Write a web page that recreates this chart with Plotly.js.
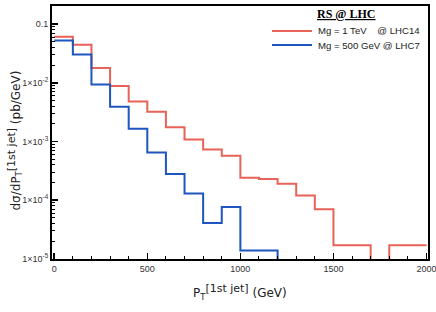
<!DOCTYPE html>
<html>
<head>
<meta charset="utf-8">
<script src="https://cdn.plot.ly/plotly-3.0.1.min.js"></script>
<style>html,body{margin:0;padding:0;background:#fff;}#chart{width:436px;height:312px;}</style>
</head>
<body>
<div id="chart"></div>
<script>
// Bin edges (GeV), 100 GeV bins from 0 to 2000
var binEdges = [0,100,200,300,400,500,600,700,800,900,1000,1100,1200,1300,1400,1500,1600,1700,1800,1900,2000];
// dσ/dPT (pb/GeV) per bin
var redValues  = [0.061,0.0445,0.0179,0.0088,0.0048,0.0032,0.00175,0.00108,0.00073,0.00057,0.00024,0.00023,0.00019,0.00012,0.00007,1.7e-5,1.7e-5,0,1.7e-5,1.7e-5];
var blueValues = [0.053,0.0305,0.0094,0.0039,0.00165,0.00065,0.00028,0.00013,0.0000407,0.0000763,1.38e-5,1.38e-5,0,0,0,0,0,0,0,0];
var seriesNames = ["Mg = 1 TeV &nbsp;&nbsp;&nbsp;@ LHC14", "Mg = 500 GeV @ LHC7"];
var seriesColors = ['rgb(232,98,88)', 'rgb(30,85,190)'];
var legendTitle = '<b><u>RS @ LHC</u></b>';
var yTickVals = [0.1,0.01,0.001,0.0001,0.00001];
var yTickText = ["0.1","1×10<sup>-2</sup>","1×10<sup>-3</sup>","1×10<sup>-4</sup>","1×10<sup>-5</sup>"];
var xTickVals = [0,500,1000,1500,2000];

var FLOOR = 1e-7; // empty bins drawn below the visible range on the log axis
function stepY(vals){
  var y = vals.map(function(v){ return v > 0 ? v : FLOOR; });
  y.push(y[y.length-1]);
  return y;
}
var minorY = [];
for (var e = -5; e <= -1; e++) for (var m = 2; m <= 9; m++) minorY.push(m*Math.pow(10,e));
var minorX = [];
for (var xv = 0; xv <= 2000; xv += 100) if (xv % 500) minorX.push(xv);

var traces = [
  {x: binEdges, y: stepY(redValues), mode:'lines', line:{shape:'hv', color:seriesColors[0], width:2}, name: seriesNames[0], showlegend:false},
  {x: binEdges, y: stepY(blueValues), mode:'lines', line:{shape:'hv', color:seriesColors[1], width:2}, name: seriesNames[1], showlegend:false}
];

// pixel -> paper helpers (plot area: x 52..428, y 6..259)
function px(x){ return (x-52)/376; }
function py(y){ return (259-y)/253; }

var sansT = 'DejaVu Sans, Verdana, sans-serif';
var legendFont = {family:'Liberation Sans, Arial, sans-serif', size:9.6, color:'#222'};
var shapes = [], annotations = [];
var legendRows = [31, 45];
for (var i = 0; i < 2; i++) {
  shapes.push({type:'line', xref:'paper', yref:'paper', x0:px(272), x1:px(312), y0:py(legendRows[i]), y1:py(legendRows[i]), line:{color:seriesColors[i], width:2}});
  annotations.push({xref:'paper', yref:'paper', x:px(316), y:py(legendRows[i]), xanchor:'left', yanchor:'middle', text:seriesNames[i], showarrow:false, font:legendFont});
}
annotations.push({xref:'paper', yref:'paper', x:px(346), y:py(14), xanchor:'center', yanchor:'middle', text:legendTitle, showarrow:false, font:{family:'Liberation Serif, Times New Roman, serif', size:12, color:'#000'}});
annotations.push({xref:'paper', yref:'paper', x:px(240), y:py(292), xanchor:'center', yanchor:'middle', showarrow:false,
  text:'P<sub>T</sub><sup><span style="font-size:11px">[1st jet]</span></sup> (GeV)', font:{family:sansT, size:12, color:'#222'}});
annotations.push({xref:'paper', yref:'paper', x:px(14.5), y:py(141), xanchor:'center', yanchor:'middle', textangle:-90, showarrow:false,
  text:'dσ/dP<sub>T</sub><sup><span style="font-size:11px">[1st jet]</span></sup> (pb/GeV)', font:{family:sansT, size:12, color:'#222'}});

var tickFont = {family:'Liberation Sans, Arial, sans-serif', size:9, color:'#333'};
var layout = {
  width:436, height:312,
  margin:{l:52, r:8, t:6, b:53},
  paper_bgcolor:'#fff', plot_bgcolor:'#fff',
  showlegend:false,
  shapes:shapes, annotations:annotations,
  xaxis:{range:[-12,2008], showgrid:false, zeroline:false, showline:true, linecolor:'#000', linewidth:2, mirror:true,
    ticks:'inside', ticklen:6, tickwidth:1.5, tickcolor:'#000', tickvals:xTickVals, ticktext:xTickVals.map(String), tickfont:tickFont,
    ticklabeloverflow:'allow',
    minor:{tickvals:minorX, ticks:'inside', ticklen:3, tickwidth:1, tickcolor:'#000', showgrid:false}},
  yaxis:{type:'log', range:[-5.005,-0.689], showgrid:false, zeroline:false, showline:true, linecolor:'#000', linewidth:2, mirror:true,
    ticks:'inside', ticklen:6, tickwidth:1.5, tickcolor:'#000', tickvals:yTickVals, ticktext:yTickText, tickfont:tickFont,
    ticklabeloverflow:'allow',
    minor:{tickvals:minorY, ticks:'inside', ticklen:3, tickwidth:1, tickcolor:'#000', showgrid:false}}
};
Plotly.newPlot('chart', traces, layout, {displayModeBar:false, staticPlot:true});
</script>
</body>
</html>
